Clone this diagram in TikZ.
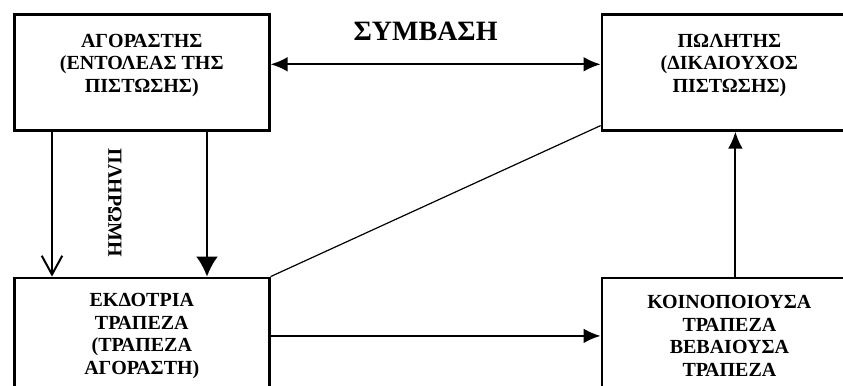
\documentclass[tikz,border=0pt]{standalone}
\usepackage{fontspec}
\setmainfont{Liberation Serif}
\usetikzlibrary{shapes,positioning,calc,arrows.meta}

\begin{document}
\begin{tikzpicture}[party/.style={rectangle, draw, line width=1.3pt, minimum width=127.5pt, minimum height=58pt, align=center, text centered, font=\fontsize{10}{11.3}\selectfont\bfseries}]

\useasboundingbox (0,0) rectangle (421.5pt,-193pt);
\clip (0,0) rectangle (421.5pt,-193pt);

% PARTIES

\node [party, text depth=9pt, anchor=north west] at (6.5pt,-6.5pt) (buyer)
{ΑΓΟΡΑΣΤΗΣ\\(ΕΝΤΟΛΕΑΣ ΤΗΣ\\ΠΙΣΤΩΣΗΣ)};

\node [party, text depth=9pt, right=165pt of buyer] (seller)
{ΠΩΛΗΤΗΣ\\(ΔΙΚΑΙΟΥΧΟΣ\\ΠΙΣΤΩΣΗΣ)};

\node [party, below=72.5pt of buyer] (issuing)
{ΕΚΔΟΤΡΙΑ\\ΤΡΑΠΕΖΑ\\(ΤΡΑΠΕΖΑ\\ΑΓΟΡΑΣΤΗ)};

\node [party, right=165pt of issuing] (notifying)
{ΚΟΙΝΟΠΟΙΟΥΣΑ\\ΤΡΑΠΕΖΑ\\ΒΕΒΑΙΟΥΣΑ\\ΤΡΑΠΕΖΑ};

\node [rotate=-90, font=\fontsize{10}{11.3}\selectfont\bfseries] at ($(buyer.south west)+(51pt,-35.5pt)$) (paymentlabel) {ΠΛΗΡΩΜΗ};

% FLOWS

\draw[line width=1pt, {Latex[length=3mm, width=2.6mm]}-{Latex[length=3mm, width=2.6mm]}] ([yshift=4pt]buyer.east) -- ([yshift=4pt]seller.west)
  node[midway, above=8pt, xshift=-5pt, font=\fontsize{14}{16}\selectfont\bfseries] (contract) {ΣΥΜΒΑΣΗ};

\draw[line width=1pt, -{Straight Barb[length=3.3mm, width=3.6mm]}] ($(buyer.south west)+(19.5pt,0)$) -- ($(issuing.north west)+(19.5pt,0)$);

\draw[line width=1pt, -{Latex[length=3.5mm, width=3.8mm]}] ($(buyer.south west)+(97pt,0)$) -- ($(issuing.north west)+(97pt,0)$);

\draw[line width=0.6pt] (issuing.north east) -- ($(seller.south west)+(0,3pt)$);

\draw[line width=1pt, -{Latex[length=3mm, width=2.6mm]}] (issuing.east) -- (notifying.west);

\draw[line width=1pt, -{Latex[length=3mm, width=2.6mm]}] ([xshift=3pt]notifying.north) -- ([xshift=3pt]seller.south);

\end{tikzpicture}
\end{document}
